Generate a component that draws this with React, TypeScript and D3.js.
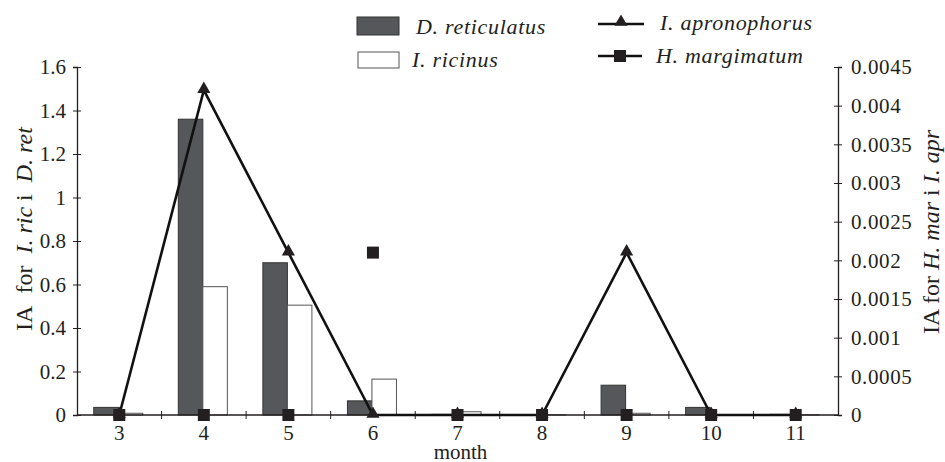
import React, { useEffect, useRef } from 'react';
import * as d3 from 'd3';

const months = ['3', '4', '5', '6', '7', '8', '9', '10', '11'];
// left axis (bars)
const dReticulatus = [0.035, 1.36, 0.7, 0.065, 0.003, 0, 0.137, 0.035, 0.003];
const iRicinus = [0.008, 0.59, 0.505, 0.165, 0.015, 0.001, 0.008, 0.002, 0.001];
// right axis (lines / markers)
const iApronophorus = [0, 0.0042, 0.0021, 0, 0, 0, 0.0021, 0, 0];
const hMargimatum = [0, 0, 0, 0.0021, 0, 0, 0, 0, 0];
const leftTicks = [0, 0.2, 0.4, 0.6, 0.8, 1, 1.2, 1.4, 1.6];
const rightTicks = [0, 0.0005, 0.001, 0.0015, 0.002, 0.0025, 0.003, 0.0035, 0.004, 0.0045];

const W = 945;
const H = 462;
const margin = { top: 67, right: 107, bottom: 47, left: 77 };
const FONT = "'Liberation Serif', 'Times New Roman', serif";
const INK = '#231f20';

const App = () => {
  const ref = useRef(null);

  useEffect(() => {
    const root = d3.select(ref.current);
    root.selectAll('*').remove();
    const svg = root.append('svg')
      .attr('width', W)
      .attr('height', H)
      .style('position', 'absolute')
      .style('left', 0)
      .style('top', 0)
      .style('font-family', FONT);

    const width = W - margin.left - margin.right;
    const height = H - margin.top - margin.bottom;
    const g = svg.append('g').attr('transform', `translate(${margin.left},${margin.top})`);

    const x = d3.scaleBand().domain(months).range([0, width]).padding(0);
    const bw = x.bandwidth();
    const xEdges = d3.scaleLinear().domain([0, months.length]).range([0, width]);
    const yL = d3.scaleLinear().domain([0, 1.6]).range([height, 0]);
    const yR = d3.scaleLinear().domain([0, 0.0045]).range([height, 0]);
    const cx = (m) => x(m) + bw / 2;

    // bars
    const barW = bw * 0.29;
    g.selectAll('.bar-dret')
      .data(months)
      .join('rect')
      .attr('class', 'bar-dret')
      .attr('x', (m) => cx(m) - barW - 1)
      .attr('y', (m, i) => yL(dReticulatus[i]))
      .attr('width', barW)
      .attr('height', (m, i) => height - yL(dReticulatus[i]))
      .attr('fill', '#55575a')
      .attr('stroke', '#333')
      .attr('stroke-width', 1);

    g.selectAll('.bar-iric')
      .data(months)
      .join('rect')
      .attr('class', 'bar-iric')
      .attr('x', (m) => cx(m) - 1)
      .attr('y', (m, i) => yL(iRicinus[i]))
      .attr('width', barW)
      .attr('height', (m, i) => height - yL(iRicinus[i]))
      .attr('fill', '#fff')
      .attr('stroke', '#555')
      .attr('stroke-width', 1);

    // x axis line + boundary ticks
    const xAxis = g.append('g').attr('transform', `translate(0,${height})`);
    xAxis.append('line')
      .attr('x1', 0).attr('x2', width)
      .attr('stroke', INK).attr('stroke-width', 1.3);
    xAxis.selectAll('.xtick')
      .data(d3.range(1, months.length))
      .join('line')
      .attr('x1', (d) => xEdges(d)).attr('x2', (d) => xEdges(d))
      .attr('y1', -4).attr('y2', 4)
      .attr('stroke', INK).attr('stroke-width', 1);
    xAxis.selectAll('.xlabel')
      .data(months)
      .join('text')
      .attr('x', (m) => cx(m))
      .attr('y', 25)
      .attr('text-anchor', 'middle')
      .style('font-size', '21px')
      .attr('fill', INK)
      .text((m) => m);
    xAxis.append('text')
      .attr('x', width / 2 + 3)
      .attr('y', 44)
      .attr('text-anchor', 'middle')
      .style('font-size', '21px')
      .attr('fill', INK)
      .text('month');

    // left axis
    const left = g.append('g').call(
      d3.axisLeft(yL).tickValues(leftTicks).tickSize(4).tickPadding(7)
        .tickFormat((d) => String(+d.toFixed(1)))
    );
    left.attr('font-family', null).attr('font-size', null);
    left.select('.domain').attr('stroke', INK).attr('stroke-width', 1.3);
    left.selectAll('.tick line').attr('x1', -4).attr('x2', 4).attr('stroke', INK);
    left.selectAll('.tick text')
      .style('font-family', FONT).style('font-size', '21px').attr('fill', INK);

    // right axis
    const right = g.append('g').attr('transform', `translate(${width},0)`).call(
      d3.axisRight(yR).tickValues(rightTicks).tickSize(4).tickPadding(9)
        .tickFormat((d) => String(+d.toFixed(4)))
    );
    right.attr('font-family', null).attr('font-size', null);
    right.select('.domain').attr('stroke', INK).attr('stroke-width', 1.3);
    right.selectAll('.tick line').attr('x1', -4).attr('x2', 4).attr('stroke', INK);
    right.selectAll('.tick text')
      .style('font-family', FONT).style('font-size', '21px').attr('fill', INK)
      .style('letter-spacing', '0.6px');

    // I. apronophorus line
    const line = d3.line()
      .x((d, i) => cx(months[i]))
      .y((d) => yR(d));
    g.append('path')
      .datum(iApronophorus)
      .attr('d', line)
      .attr('fill', 'none')
      .attr('stroke', '#111')
      .attr('stroke-width', 2.6)
      .attr('stroke-linejoin', 'miter');

    const tri = d3.symbol().type(d3.symbolTriangle).size(75);
    g.selectAll('.tri')
      .data(iApronophorus)
      .join('path')
      .attr('class', 'tri')
      .attr('transform', (d, i) => `translate(${cx(months[i])},${yR(d) - 1})`)
      .attr('d', tri)
      .attr('fill', INK);

    // H. margimatum markers
    g.selectAll('.sq')
      .data(hMargimatum)
      .join('rect')
      .attr('class', 'sq')
      .attr('x', (d, i) => cx(months[i]) - 6)
      .attr('y', (d) => yR(d) - 6)
      .attr('width', 12)
      .attr('height', 12)
      .attr('fill', INK);

    // axis titles
    const lt = svg.append('text')
      .attr('transform', `translate(32,${margin.top + height / 2 - 12}) rotate(-90)`)
      .attr('text-anchor', 'middle')
      .style('font-size', '24px')
      .attr('fill', INK);
    lt.append('tspan').text('IA\u00a0\u00a0for\u00a0\u00a0');
    lt.append('tspan').attr('font-style', 'italic').text('I. ric');
    lt.append('tspan').text(' i\u00a0\u00a0');
    lt.append('tspan').attr('font-style', 'italic').text('D. ret');

    const rt = svg.append('text')
      .attr('transform', `translate(939,${margin.top + height / 2 - 9}) rotate(-90)`)
      .attr('text-anchor', 'middle')
      .style('font-size', '24px')
      .attr('fill', INK);
    rt.append('tspan').text('IA for ');
    rt.append('tspan').attr('font-style', 'italic').text('H. mar');
    rt.append('tspan').text(' i ');
    rt.append('tspan').attr('font-style', 'italic').text('I. apr');

    // legend
    const legend = svg.append('g').style('font-size', '22px').attr('font-style', 'italic').attr('fill', INK);
    legend.append('rect')
      .attr('x', 357).attr('y', 17).attr('width', 42).attr('height', 18)
      .attr('fill', '#55575a').attr('stroke', '#333');
    legend.append('text').attr('x', 416).attr('y', 34).style('letter-spacing', '0.7px').text('D. reticulatus');
    legend.append('rect')
      .attr('x', 358).attr('y', 52).attr('width', 41).attr('height', 16)
      .attr('fill', '#fff').attr('stroke', '#555');
    legend.append('text').attr('x', 412).attr('y', 67).style('letter-spacing', '0.7px').text('I. ricinus');

    legend.append('line')
      .attr('x1', 598).attr('x2', 644).attr('y1', 24).attr('y2', 24)
      .attr('stroke', '#111').attr('stroke-width', 2.6);
    legend.append('path')
      .attr('transform', 'translate(621,22)')
      .attr('d', tri)
      .attr('fill', INK);
    legend.append('text').attr('x', 660).attr('y', 30).style('letter-spacing', '0.7px').text('I. apronophorus');

    legend.append('line')
      .attr('x1', 598).attr('x2', 642).attr('y1', 56).attr('y2', 56)
      .attr('stroke', '#111').attr('stroke-width', 2.6);
    legend.append('rect')
      .attr('x', 614).attr('y', 50).attr('width', 12).attr('height', 12)
      .attr('fill', INK);
    legend.append('text').attr('x', 656).attr('y', 63).style('letter-spacing', '0.7px').text('H. margimatum');
  }, []);

  return <div className="chart" ref={ref} />;
};

export default App;
